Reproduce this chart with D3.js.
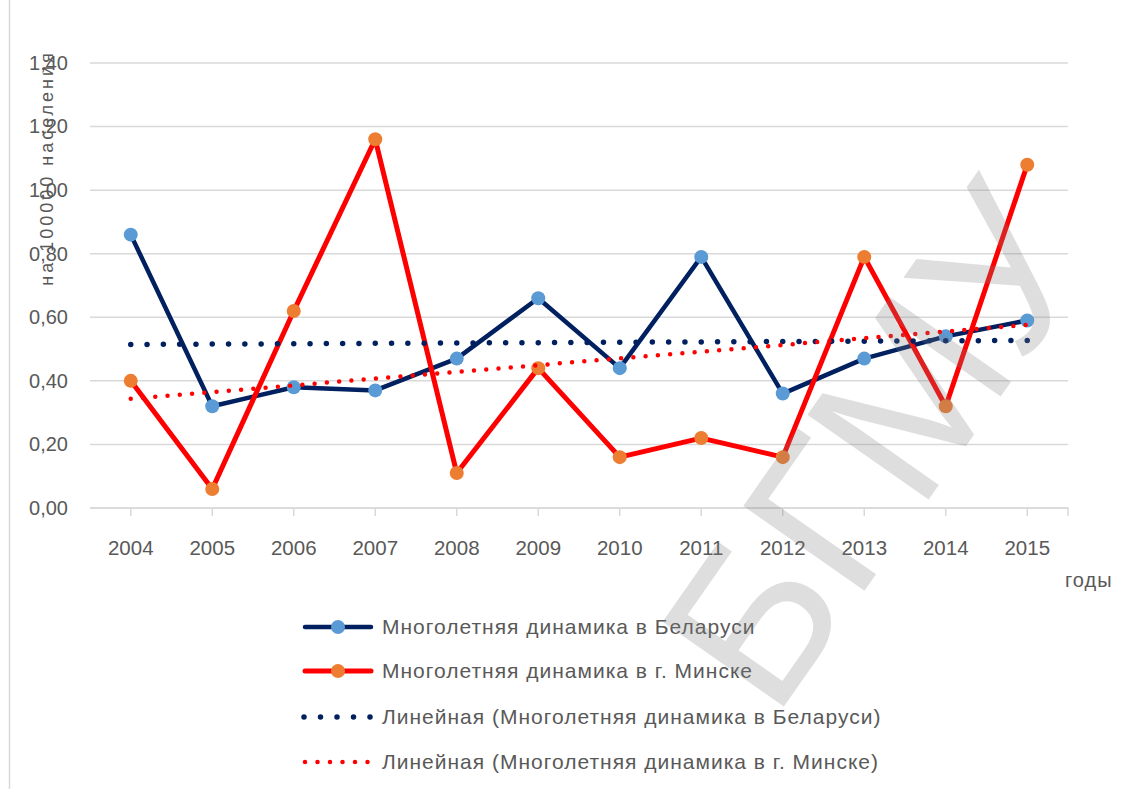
<!DOCTYPE html>
<html>
<head>
<meta charset="utf-8">
<script src="https://cdn.jsdelivr.net/npm/d3@7"></script>
<style>
  body { margin: 0; background: #fff; }
  svg text { font-family: "Liberation Sans", Arial, sans-serif; fill: #595959; }
</style>
</head>
<body>
<script>
// data
var years = ["2004","2005","2006","2007","2008","2009","2010","2011","2012","2013","2014","2015"];
var belarus = [0.86, 0.32, 0.38, 0.37, 0.47, 0.66, 0.44, 0.79, 0.36, 0.47, 0.54, 0.59];
var minsk = [0.40, 0.06, 0.62, 1.16, 0.11, 0.44, 0.16, 0.22, 0.16, 0.79, 0.32, 1.08];
var yTicks = [0, 0.2, 0.4, 0.6, 0.8, 1.0, 1.2, 1.4];
var legendNames = [
  "Многолетняя динамика в Беларуси",
  "Многолетняя динамика в г. Минске",
  "Линейная (Многолетняя динамика в Беларуси)",
  "Линейная (Многолетняя динамика в г. Минске)"
];

var W = 1143, H = 789;
var svg = d3.select("body").append("svg")
  .attr("width", W)
  .attr("height", H);

// chart frame left edge
svg.append("line")
  .attr("x1", 9.5).attr("x2", 9.5)
  .attr("y1", 0).attr("y2", H)
  .style("stroke", "#d9d9d9").style("stroke-width", 1.5);

var x = d3.scaleBand().domain(years).range([90, 1068]).padding(0);
var y = d3.scaleLinear().domain([0, 1.4]).range([508, 63]);
var cx = function (d, i) { return x(years[i]) + x.bandwidth() / 2; };

// grid lines
svg.append("g").selectAll("line")
  .data(yTicks)
  .enter().append("line")
  .attr("x1", 90).attr("x2", 1068)
  .attr("y1", function (d) { return y(d); })
  .attr("y2", function (d) { return y(d); })
  .style("stroke", "#d9d9d9").style("stroke-width", 1.5);

// y labels
var yAxis = d3.axisLeft(y).tickValues(yTicks).tickSize(0).tickPadding(0)
  .tickFormat(function (d) { return d3.format(".2f")(d).replace(".", ","); });
var gy = svg.append("g").attr("transform", "translate(68,0)").call(yAxis);
gy.select(".domain").remove();
gy.selectAll("text").style("font-size", "20px").style("fill", "#595959");

// x axis
var xAxis = d3.axisBottom(x).tickSize(8).tickPadding(24);
var gx = svg.append("g").attr("transform", "translate(0,508)").call(xAxis);
gx.select(".domain").attr("d", "M90,0H1068V8").style("stroke", "#d9d9d9").style("stroke-width", 1.5);
gx.selectAll(".tick line").style("stroke", "#d9d9d9").style("stroke-width", 1.5);
gx.selectAll("text").style("font-size", "20.5px").style("fill", "#595959");

// y title
svg.append("text")
  .attr("transform", "translate(53,168) rotate(-90)")
  .attr("text-anchor", "middle")
  .style("font-size", "18px")
  .style("letter-spacing", "3px")
  .text("на 100000 населения");

svg.append("text")
  .attr("x", 1065).attr("y", 587)
  .style("font-size", "20px")
  .style("letter-spacing", "1px")
  .text("годы");

// linear trend
function trend(vals) {
  var n = vals.length, sx = 0, sy = 0, sxy = 0, sxx = 0;
  vals.forEach(function (v, i) { var t = i + 1; sx += t; sy += v; sxy += t * v; sxx += t * t; });
  var b = (n * sxy - sx * sy) / (n * sxx - sx * sx);
  var a = (sy - b * sx) / n;
  return vals.map(function (v, i) { return a + b * (i + 1); });
}

var line = d3.line()
  .x(function (d, i) { return cx(d, i); })
  .y(function (d) { return y(d); });

// Belarus series
svg.append("path").datum(belarus)
  .attr("d", line)
  .style("fill", "none").style("stroke", "#002060").style("stroke-width", 4.5)
  .style("stroke-linejoin", "round");
svg.append("g").selectAll("circle").data(belarus).enter().append("circle")
  .attr("cx", cx).attr("cy", function (d) { return y(d); })
  .attr("r", 7).style("fill", "#5b9bd5");

// Minsk series
svg.append("path").datum(minsk)
  .attr("d", line)
  .style("fill", "none").style("stroke", "#ff0000").style("stroke-width", 5)
  .style("stroke-linejoin", "round");
svg.append("g").selectAll("circle").data(minsk).enter().append("circle")
  .attr("cx", cx).attr("cy", function (d) { return y(d); })
  .attr("r", 7).style("fill", "#ed7d31");

// trend lines
svg.append("path").datum(trend(belarus))
  .attr("d", line)
  .style("fill", "none").style("stroke", "#002060").style("stroke-width", 5.5)
  .style("stroke-linecap", "round").style("stroke-dasharray", "0,16.3");
svg.append("path").datum(trend(minsk))
  .attr("d", line)
  .style("fill", "none").style("stroke", "#ff0000").style("stroke-width", 4.5)
  .style("stroke-linecap", "round").style("stroke-dasharray", "0,12.3");

// legend
var legY = [627, 671, 717, 762];
var leg = svg.append("g").selectAll("g").data(legendNames).enter().append("g")
  .attr("transform", function (d, i) { return "translate(0," + legY[i] + ")"; });
leg.append("text")
  .attr("x", 382).attr("y", 7)
  .style("font-size", "21px")
  .style("letter-spacing", "1px")
  .text(function (d) { return d; });

leg.filter(function (d, i) { return i < 2; }).append("line")
  .attr("x1", 305).attr("x2", 371).attr("y1", 0).attr("y2", 0)
  .style("stroke-linecap", "round")
  .style("stroke", function (d, i) { return i === 0 ? "#002060" : "#ff0000"; })
  .style("stroke-width", function (d, i) { return i === 0 ? 4.5 : 5; });
leg.filter(function (d, i) { return i < 2; }).append("circle")
  .attr("cx", 338).attr("cy", 0).attr("r", 7)
  .style("fill", function (d, i) { return i === 0 ? "#5b9bd5" : "#ed7d31"; });
leg.filter(function (d, i) { return i === 2; }).append("line")
  .attr("x1", 304).attr("x2", 371).attr("y1", 0).attr("y2", 0)
  .style("stroke", "#002060").style("stroke-width", 5.5)
  .style("stroke-linecap", "round").style("stroke-dasharray", "0,16.5");
leg.filter(function (d, i) { return i === 3; }).append("line")
  .attr("x1", 305).attr("x2", 368).attr("y1", 0).attr("y2", 0)
  .style("stroke", "#ff0000").style("stroke-width", 4.5)
  .style("stroke-linecap", "round").style("stroke-dasharray", "0,12.5");

// watermark
svg.append("text")
  .attr("transform", "translate(875,445) rotate(-55)")
  .attr("text-anchor", "middle")
  .attr("dy", "0.35em")
  .style("font-size", "215px")
  .style("fill", "#808080")
  .style("opacity", 0.25)
  .text("БГМУ");
</script>
</body>
</html>
